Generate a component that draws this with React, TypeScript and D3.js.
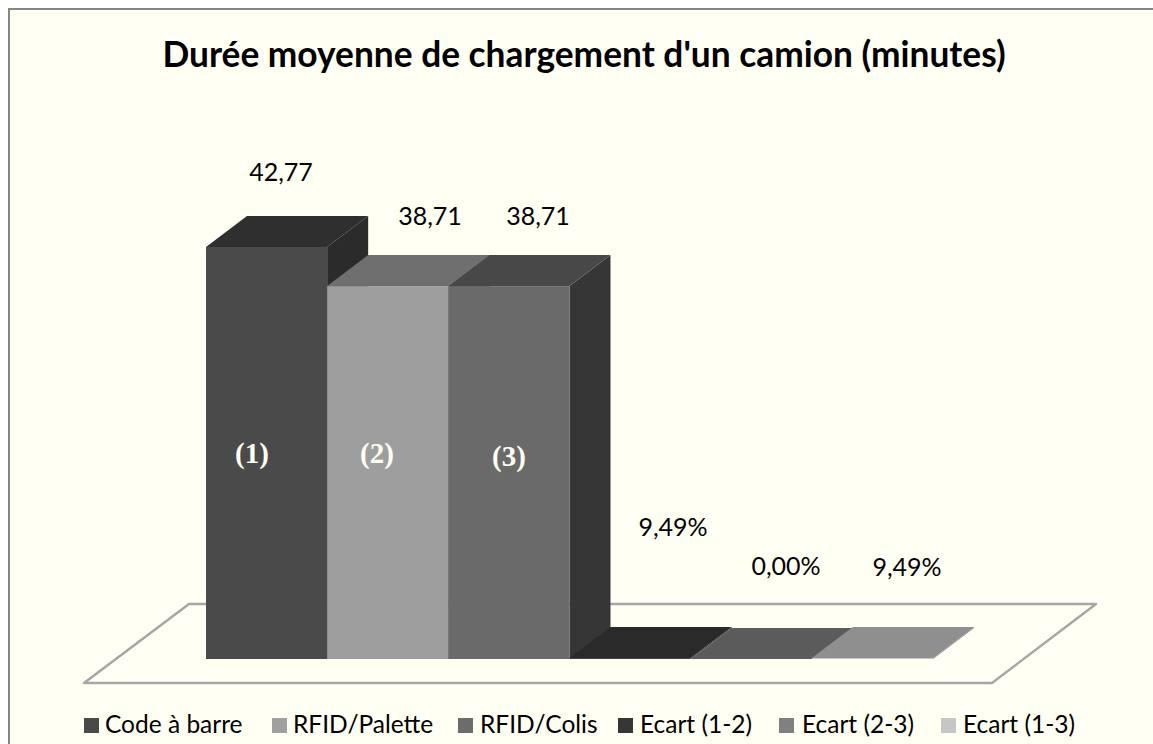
import React from "react";
import * as d3 from "d3";

const categories = ["Code à barre", "RFID/Palette", "RFID/Colis", "Ecart (1-2)", "Ecart (2-3)", "Ecart (1-3)"];
const values = [42.77, 38.71, 38.71, 0.0949, 0, 0.0949];
const valueLabels = ["42,77", "38,71", "38,71", "9,49%", "0,00%", "9,49%"];
const barNotes = ["(1)", "(2)", "(3)"];

const frontColors = ["#4a4a4a", "#9e9e9e", "#6a6a6a", "#333333", "#808080", "#c4c4c4"];
const topColors = ["#2f2f2f", "#6f6f6f", "#484848", "#2a2a2a", "#5b5b5b", "#8f8f8f"];
const sideColors = ["#2b2b2b", "#555555", "#363636", "#262626", "#505050", "#808080"];
const legendColors = ["#4a4a4a", "#a0a0a0", "#6c6c6c", "#363636", "#808080", "#c6c6c6"];

const labelX = [281, 430, 538, 673, 786, 907];
const labelBaseline = [181, 225, 225, 536, 575, 576];
const noteX = [252, 377, 509];
const noteBaseline = [463, 463, 466];
const legendSwatch = [84, 272, 458, 618, 779, 941];
const legendText = [105, 293, 480, 640, 802, 963];

const x = d3.scaleBand<number>().domain(d3.range(6)).range([206, 933]).padding(0);
const y = d3.scaleLinear().domain([0, 42.77]).range([659, 247]);
const dx = 41;
const dy = -31;
const FONT = "Lato,'Open Sans',sans-serif";

const poly = (pts: [number, number][]) => (d3.line()(pts) ?? "") + "Z";

export default function App() {
  const order = d3.range(6);
  return (
    <svg width={1153} height={744} style={{ position: "absolute", left: 0, top: 0, display: "block" }}>
      <rect x={0} y={0} width={1153} height={744} fill="#ffffff" />
      <rect x={9} y={9} width={1160} height={760} fill="#fffff3" stroke="#868686" strokeWidth={2} />
      <text x={584} y={67} textAnchor="middle" fontFamily={FONT} fontWeight={700} fontSize={35.3} fill="#000">
        Durée moyenne de chargement d'un camion (minutes)
      </text>
      <path d={poly([[84, 683], [992, 683], [1096, 604], [189, 604]])} fill="none" stroke="#a6a6a6" strokeWidth={2.5} strokeLinejoin="round" />
      {order.map((i) => {
        const x0 = x(i)!;
        const x1 = x0 + x.bandwidth();
        const yb = y(0);
        const yt = y(values[i]);
        return (
          <g key={i}>
            <path d={poly([[x1, yb], [x1 + dx, yb + dy], [x1 + dx, yt + dy], [x1, yt]])} fill={sideColors[i]} />
            <path d={poly([[x0, yt], [x1, yt], [x1 + dx, yt + dy], [x0 + dx, yt + dy]])} fill={topColors[i]} />
            <rect x={x0} y={yt} width={x.bandwidth()} height={yb - yt} fill={frontColors[i]} />
          </g>
        );
      })}
      {order.map((i) => (
        <text key={i} x={labelX[i]} y={labelBaseline[i]} textAnchor="middle" fontFamily={FONT} fontSize={25} fill="#000">
          {valueLabels[i]}
        </text>
      ))}
      {barNotes.map((n, i) => (
        <text key={n} x={noteX[i]} y={noteBaseline[i]} textAnchor="middle" fontFamily="'Liberation Serif',serif" fontWeight={700} fontSize={29} fill="#fffff3">
          {n}
        </text>
      ))}
      {categories.map((c, i) => (
        <g key={c}>
          <rect x={legendSwatch[i]} y={718} width={15} height={15} fill={legendColors[i]} />
          <text x={legendText[i]} y={733} fontFamily={FONT} fontSize={24.5} fill="#000">
            {c}
          </text>
        </g>
      ))}
    </svg>
  );
}
